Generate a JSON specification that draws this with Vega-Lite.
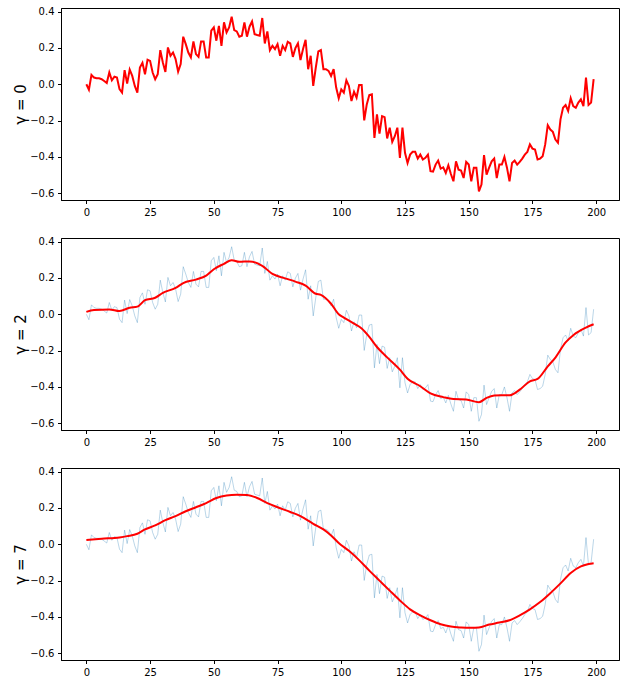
{
  "$schema": "https://vega.github.io/schema/vega-lite/v6.json",
  "padding": {"left": 13, "top": 6, "right": 5, "bottom": 5},
  "background": "white",
  "spacing": 18,
  "config": {
    "font": "DejaVu Sans",
    "view": {"stroke": "black", "strokeWidth": 1},
    "axis": {"grid": false, "labelOverlap": false, "labelFontSize": 10, "labelColor": "black", "tickColor": "black", "domainColor": "black", "tickSize": 3.5, "labelPadding": 3.5, "titleFontSize": 15, "titleFontWeight": "normal", "titleColor": "black", "titlePadding": 1, "labelFont": "DejaVu Sans", "titleFont": "DejaVu Sans"}
  },
  "datasets": {
    "noisy": [
      {"i":0,"v":0.000},{"i":1,"v":-0.030},{"i":2,"v":0.052},{"i":3,"v":0.037},{"i":4,"v":0.033},{"i":5,"v":0.033},{"i":6,"v":0.028},{"i":7,"v":0.018},{"i":8,"v":0.007},{"i":9,"v":0.065},
      {"i":10,"v":0.022},{"i":11,"v":0.042},{"i":12,"v":0.037},{"i":13,"v":-0.027},{"i":14,"v":-0.046},{"i":15,"v":0.078},{"i":16,"v":0.004},{"i":17,"v":0.081},{"i":18,"v":0.046},{"i":19,"v":-0.009},
      {"i":20,"v":-0.046},{"i":21,"v":0.092},{"i":22,"v":0.118},{"i":23,"v":0.055},{"i":24,"v":0.135},{"i":25,"v":0.129},{"i":26,"v":0.065},{"i":27,"v":0.028},{"i":28,"v":0.055},{"i":29,"v":0.188},
      {"i":30,"v":0.120},{"i":31,"v":0.068},{"i":32,"v":0.203},{"i":33,"v":0.157},{"i":34,"v":0.175},{"i":35,"v":0.139},{"i":36,"v":0.070},{"i":37,"v":0.111},{"i":38,"v":0.262},{"i":39,"v":0.221},
      {"i":40,"v":0.175},{"i":41,"v":0.148},{"i":42,"v":0.236},{"i":43,"v":0.166},{"i":44,"v":0.151},{"i":45,"v":0.236},{"i":46,"v":0.236},{"i":47,"v":0.148},{"i":48,"v":0.148},{"i":49,"v":0.295},
      {"i":50,"v":0.313},{"i":51,"v":0.240},{"i":52,"v":0.322},{"i":53,"v":0.212},{"i":54,"v":0.341},{"i":55,"v":0.286},{"i":56,"v":0.313},{"i":57,"v":0.372},{"i":58,"v":0.298},{"i":59,"v":0.291},
      {"i":60,"v":0.262},{"i":61,"v":0.267},{"i":62,"v":0.341},{"i":63,"v":0.262},{"i":64,"v":0.317},{"i":65,"v":0.346},{"i":66,"v":0.276},{"i":67,"v":0.271},{"i":68,"v":0.267},{"i":69,"v":0.365},
      {"i":70,"v":0.225},{"i":71,"v":0.291},{"i":72,"v":0.188},{"i":73,"v":0.212},{"i":74,"v":0.194},{"i":75,"v":0.221},{"i":76,"v":0.157},{"i":77,"v":0.212},{"i":78,"v":0.188},{"i":79,"v":0.234},
      {"i":80,"v":0.225},{"i":81,"v":0.151},{"i":82,"v":0.199},{"i":83,"v":0.225},{"i":84,"v":0.133},{"i":85,"v":0.194},{"i":86,"v":0.245},{"i":87,"v":0.083},{"i":88,"v":0.157},{"i":89,"v":-0.009},
      {"i":90,"v":0.092},{"i":91,"v":0.181},{"i":92,"v":0.188},{"i":93,"v":0.083},{"i":94,"v":0.083},{"i":95,"v":0.074},{"i":96,"v":0.046},{"i":97,"v":0.083},{"i":98,"v":-0.018},{"i":99,"v":-0.077},
      {"i":100,"v":-0.028},{"i":101,"v":-0.046},{"i":102,"v":0.022},{"i":103,"v":-0.009},{"i":104,"v":-0.092},{"i":105,"v":-0.041},{"i":106,"v":-0.074},{"i":107,"v":-0.004},{"i":108,"v":-0.004},{"i":109,"v":-0.199},
      {"i":110,"v":-0.111},{"i":111,"v":-0.059},{"i":112,"v":-0.055},{"i":113,"v":-0.295},{"i":114,"v":-0.166},{"i":115,"v":-0.272},{"i":116,"v":-0.175},{"i":117,"v":-0.181},{"i":118,"v":-0.298},{"i":119,"v":-0.239},
      {"i":120,"v":-0.317},{"i":121,"v":-0.286},{"i":122,"v":-0.239},{"i":123,"v":-0.405},{"i":124,"v":-0.239},{"i":125,"v":-0.377},{"i":126,"v":-0.433},{"i":127,"v":-0.387},{"i":128,"v":-0.372},{"i":129,"v":-0.372},
      {"i":130,"v":-0.409},{"i":131,"v":-0.387},{"i":132,"v":-0.414},{"i":133,"v":-0.405},{"i":134,"v":-0.387},{"i":135,"v":-0.478},{"i":136,"v":-0.481},{"i":137,"v":-0.442},{"i":138,"v":-0.420},{"i":139,"v":-0.464},
      {"i":140,"v":-0.457},{"i":141,"v":-0.488},{"i":142,"v":-0.446},{"i":143,"v":-0.494},{"i":144,"v":-0.534},{"i":145,"v":-0.424},{"i":146,"v":-0.470},{"i":147,"v":-0.475},{"i":148,"v":-0.516},{"i":149,"v":-0.427},
      {"i":150,"v":-0.442},{"i":151,"v":-0.534},{"i":152,"v":-0.459},{"i":153,"v":-0.459},{"i":154,"v":-0.589},{"i":155,"v":-0.552},{"i":156,"v":-0.390},{"i":157,"v":-0.497},{"i":158,"v":-0.459},{"i":159,"v":-0.424},
      {"i":160,"v":-0.409},{"i":161,"v":-0.516},{"i":162,"v":-0.442},{"i":163,"v":-0.442},{"i":164,"v":-0.400},{"i":165,"v":-0.459},{"i":166,"v":-0.534},{"i":167,"v":-0.433},{"i":168,"v":-0.420},{"i":169,"v":-0.442},
      {"i":170,"v":-0.427},{"i":171,"v":-0.409},{"i":172,"v":-0.387},{"i":173,"v":-0.372},{"i":174,"v":-0.331},{"i":175,"v":-0.354},{"i":176,"v":-0.359},{"i":177,"v":-0.414},{"i":178,"v":-0.409},{"i":179,"v":-0.396},
      {"i":180,"v":-0.331},{"i":181,"v":-0.225},{"i":182,"v":-0.249},{"i":183,"v":-0.262},{"i":184,"v":-0.304},{"i":185,"v":-0.322},{"i":186,"v":-0.193},{"i":187,"v":-0.129},{"i":188,"v":-0.114},{"i":189,"v":-0.147},
      {"i":190,"v":-0.077},{"i":191,"v":-0.120},{"i":192,"v":-0.129},{"i":193,"v":-0.101},{"i":194,"v":-0.083},{"i":195,"v":-0.120},{"i":196,"v":0.037},{"i":197,"v":-0.114},{"i":198,"v":-0.101},{"i":199,"v":0.028}
    ],
    "s2": [
      {"i":0,"v":0.013},{"i":3,"v":0.024},{"i":9,"v":0.027},{"i":13,"v":0.018},{"i":17,"v":0.036},{"i":20,"v":0.042},{"i":23,"v":0.078},{"i":27,"v":0.091},{"i":30,"v":0.118},{"i":35,"v":0.145},
      {"i":38,"v":0.172},{"i":43,"v":0.191},{"i":47,"v":0.213},{"i":50,"v":0.248},{"i":54,"v":0.278},{"i":57,"v":0.298},{"i":60,"v":0.289},{"i":64,"v":0.291},{"i":69,"v":0.267},{"i":73,"v":0.222},
      {"i":78,"v":0.198},{"i":82,"v":0.18},{"i":86,"v":0.158},{"i":90,"v":0.113},{"i":92,"v":0.107},{"i":96,"v":0.058},{"i":99,"v":0.0},{"i":101,"v":-0.018},{"i":105,"v":-0.051},{"i":108,"v":-0.078},
      {"i":111,"v":-0.124},{"i":114,"v":-0.18},{"i":118,"v":-0.237},{"i":123,"v":-0.305},{"i":126,"v":-0.355},{"i":131,"v":-0.396},{"i":135,"v":-0.435},{"i":140,"v":-0.456},{"i":144,"v":-0.467},{"i":149,"v":-0.469},
      {"i":154,"v":-0.484},{"i":157,"v":-0.46},{"i":160,"v":-0.447},{"i":163,"v":-0.446},{"i":166,"v":-0.446},{"i":170,"v":-0.415},{"i":174,"v":-0.369},{"i":177,"v":-0.356},{"i":181,"v":-0.287},{"i":184,"v":-0.238},
      {"i":188,"v":-0.155},{"i":191,"v":-0.115},{"i":196,"v":-0.073},{"i":199,"v":-0.055}
    ],
    "s7": [
      {"i":0,"v":0.024},{"i":6,"v":0.031},{"i":13,"v":0.038},{"i":16,"v":0.045},{"i":20,"v":0.058},{"i":23,"v":0.082},{"i":27,"v":0.104},{"i":31,"v":0.133},{"i":35,"v":0.155},{"i":39,"v":0.182},
      {"i":43,"v":0.204},{"i":47,"v":0.227},{"i":51,"v":0.255},{"i":55,"v":0.269},{"i":59,"v":0.273},{"i":63,"v":0.271},{"i":67,"v":0.255},{"i":71,"v":0.227},{"i":75,"v":0.204},{"i":80,"v":0.178},
      {"i":84,"v":0.155},{"i":89,"v":0.113},{"i":93,"v":0.082},{"i":96,"v":0.049},{"i":99,"v":0.007},{"i":103,"v":-0.036},{"i":107,"v":-0.087},{"i":111,"v":-0.145},{"i":115,"v":-0.2},{"i":119,"v":-0.255},
      {"i":123,"v":-0.309},{"i":127,"v":-0.358},{"i":131,"v":-0.391},{"i":135,"v":-0.418},{"i":139,"v":-0.44},{"i":143,"v":-0.453},{"i":147,"v":-0.458},{"i":151,"v":-0.46},{"i":154,"v":-0.458},{"i":158,"v":-0.442},
      {"i":162,"v":-0.431},{"i":166,"v":-0.418},{"i":170,"v":-0.391},{"i":174,"v":-0.358},{"i":178,"v":-0.318},{"i":182,"v":-0.269},{"i":186,"v":-0.215},{"i":190,"v":-0.158},{"i":194,"v":-0.122},{"i":197,"v":-0.109},
      {"i":199,"v":-0.104}
    ]
  },
  "vconcat": [
    {
      "width": 558, "height": 192,
      "data": {"name": "noisy"},
      "mark": {"type": "line", "color": "#ff0000", "strokeWidth": 2},
      "encoding": {
        "x": {"field": "i", "type": "quantitative", "scale": {"domain": [-9.95, 208.95], "nice": false, "zero": false}, "axis": {"values": [0,25,50,75,100,125,150,175,200], "title": null}},
        "y": {"field": "v", "type": "quantitative", "scale": {"domain": [-0.637, 0.42], "nice": false, "zero": false}, "axis": {"values": [-0.6,-0.4,-0.2,0,0.2,0.4], "format": ".1f", "title": "γ = 0"}}
      }
    },
    {
      "width": 558, "height": 192,
      "layer": [
        {
          "data": {"name": "noisy"},
          "mark": {"type": "line", "color": "#1f77b4", "opacity": 0.3, "strokeWidth": 1},
          "encoding": {
            "x": {"field": "i", "type": "quantitative", "scale": {"domain": [-9.95, 208.95], "nice": false, "zero": false}, "axis": {"values": [0,25,50,75,100,125,150,175,200], "title": null}},
            "y": {"field": "v", "type": "quantitative", "scale": {"domain": [-0.637, 0.42], "nice": false, "zero": false}, "axis": {"values": [-0.6,-0.4,-0.2,0,0.2,0.4], "format": ".1f", "title": "γ = 2"}}
          }
        },
        {
          "data": {"name": "s2"},
          "mark": {"type": "line", "color": "#ff0000", "strokeWidth": 2, "interpolate": "monotone"},
          "encoding": {
            "x": {"field": "i", "type": "quantitative", "scale": {"domain": [-9.95, 208.95], "nice": false, "zero": false}, "axis": {"values": [0,25,50,75,100,125,150,175,200], "title": null}},
            "y": {"field": "v", "type": "quantitative", "scale": {"domain": [-0.637, 0.42], "nice": false, "zero": false}, "axis": {"values": [-0.6,-0.4,-0.2,0,0.2,0.4], "format": ".1f", "title": "γ = 2"}}
          }
        }
      ]
    },
    {
      "width": 558, "height": 192,
      "layer": [
        {
          "data": {"name": "noisy"},
          "mark": {"type": "line", "color": "#1f77b4", "opacity": 0.3, "strokeWidth": 1},
          "encoding": {
            "x": {"field": "i", "type": "quantitative", "scale": {"domain": [-9.95, 208.95], "nice": false, "zero": false}, "axis": {"values": [0,25,50,75,100,125,150,175,200], "title": null}},
            "y": {"field": "v", "type": "quantitative", "scale": {"domain": [-0.637, 0.42], "nice": false, "zero": false}, "axis": {"values": [-0.6,-0.4,-0.2,0,0.2,0.4], "format": ".1f", "title": "γ = 7"}}
          }
        },
        {
          "data": {"name": "s7"},
          "mark": {"type": "line", "color": "#ff0000", "strokeWidth": 2, "interpolate": "monotone"},
          "encoding": {
            "x": {"field": "i", "type": "quantitative", "scale": {"domain": [-9.95, 208.95], "nice": false, "zero": false}, "axis": {"values": [0,25,50,75,100,125,150,175,200], "title": null}},
            "y": {"field": "v", "type": "quantitative", "scale": {"domain": [-0.637, 0.42], "nice": false, "zero": false}, "axis": {"values": [-0.6,-0.4,-0.2,0,0.2,0.4], "format": ".1f", "title": "γ = 7"}}
          }
        }
      ]
    }
  ]
}
